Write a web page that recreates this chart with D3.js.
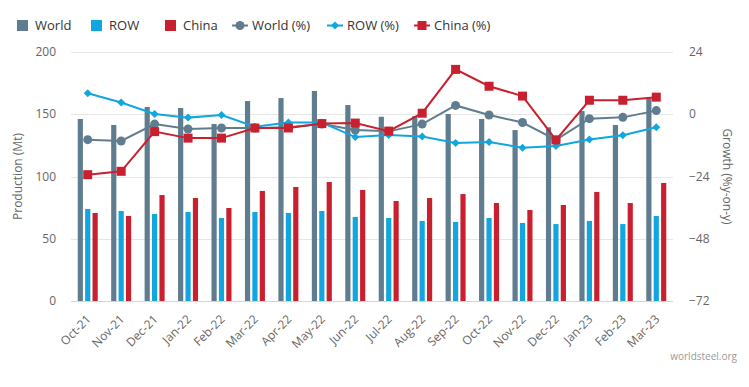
<!DOCTYPE html>
<html>
<head>
<meta charset="utf-8">
<script src="https://cdn.jsdelivr.net/npm/d3@7"></script>
<style>
  body { margin: 0; background: #fff; }
  svg { font-family: "Open Sans", "DejaVu Sans", sans-serif; }
  .grid line { stroke: #e6e6e6; }
  .axis text { fill: #666; font-size: 12px; }
</style>
</head>
<body>
<svg id="chart"></svg>
<script>
var months = ["Oct-21","Nov-21","Dec-21","Jan-22","Feb-22","Mar-22","Apr-22","May-22","Jun-22",
              "Jul-22","Aug-22","Sep-22","Oct-22","Nov-22","Dec-22","Jan-23","Feb-23","Mar-23"];

// production, Mt
var world = [146.2, 141.4, 155.8, 155.0, 142.2, 160.6, 163.0, 168.7, 157.4,
             148.0, 148.5, 150.2, 146.2, 137.3, 139.5, 152.6, 141.4, 162.8];
var row   = [73.9, 72.3, 69.9, 71.5, 66.7, 71.5, 70.7, 72.3, 67.5,
             66.7, 64.3, 63.5, 66.7, 62.7, 61.8, 64.3, 61.8, 68.3];
var china = [70.7, 68.3, 85.1, 82.7, 74.7, 88.4, 91.6, 95.6, 89.2,
             80.3, 82.7, 85.9, 78.7, 73.1, 77.1, 87.6, 78.7, 94.8];

// growth, % y-on-y
var worldPct = [-9.8, -10.3, -3.8, -5.7, -5.3, -5.3, -5.0, -3.8, -6.1,
                -6.6, -3.8, 3.4, -0.3, -3.2, -9.9, -1.7, -1.2, 1.4];
var rowPct   = [8.1, 4.5, 0.1, -1.3, -0.3, -4.8, -3.2, -3.2, -8.8,
                -8.0, -8.6, -11.1, -10.7, -12.9, -12.2, -9.7, -8.1, -5.0];
var chinaPct = [-23.3, -22.0, -6.7, -9.2, -9.2, -5.3, -5.3, -3.6, -3.4,
                -6.5, 0.4, 17.3, 10.8, 7.0, -9.9, 5.4, 5.4, 6.6];

var leftTicks = [0, 50, 100, 150, 200];
var rightTicks = [-72, -48, -24, 0, 24];

var colors = {world: "#5f7d8e", row: "#11a6df", china: "#c9202f"};

var width = 749, height = 387;
var margin = {top: 52, left: 71, right: 76, bottom: 86};

var svg = d3.select("#chart").attr("width", width).attr("height", height);

var x = d3.scaleBand()
    .domain(months)
    .range([margin.left, width - margin.right]);

var yLeft = d3.scaleLinear().domain([0, 200]).range([height - margin.bottom + 0, margin.top]);
var yRight = d3.scaleLinear().domain([-72, 24]).range([height - margin.bottom, margin.top]);

// grid
svg.append("g")
    .attr("class", "grid")
    .selectAll("line")
    .data(leftTicks.slice(1))
    .enter().append("line")
    .attr("x1", margin.left).attr("x2", width - margin.right)
    .attr("y1", function(d) { return Math.round(yLeft(d)) + 0.5; })
    .attr("y2", function(d) { return Math.round(yLeft(d)) + 0.5; });

// bars
var inner = d3.scaleBand()
    .domain(["world", "row", "china"])
    .range([-10, 10])
    .paddingInner(0.3);

var series = [
    {key: "world", values: world},
    {key: "row", values: row},
    {key: "china", values: china}
];

series.forEach(function(s) {
    svg.append("g").selectAll("rect")
        .data(s.values)
        .enter().append("rect")
        .attr("x", function(d, i) { return x(months[i]) + x.bandwidth() / 2 + inner(s.key); })
        .attr("width", inner.bandwidth())
        .attr("y", function(d) { return yLeft(d); })
        .attr("height", function(d) { return yLeft(0) - yLeft(d); })
        .attr("fill", colors[s.key]);
});

// bottom axis line
svg.append("line")
    .attr("x1", margin.left).attr("x2", width - margin.right)
    .attr("y1", yLeft(0) + 0.5).attr("y2", yLeft(0) + 0.5)
    .attr("stroke", "#ccd6eb");

// lines
var cx = function(i) { return x(months[i]) + x.bandwidth() / 2; };

var lines = [
    {key: "world", values: worldPct, marker: "circle"},
    {key: "row", values: rowPct, marker: "diamond"},
    {key: "china", values: chinaPct, marker: "square"}
];

var line = d3.line()
    .x(function(d, i) { return cx(i); })
    .y(function(d) { return yRight(d); });

function drawMarker(g, type, px, py, color) {
    if (type === "circle") {
        g.append("circle").attr("cx", px).attr("cy", py).attr("r", 4.5).attr("fill", color);
    } else if (type === "diamond") {
        g.append("path")
            .attr("d", "M" + px + "," + (py - 4) + "L" + (px + 4) + "," + py + "L" + px + "," + (py + 4) + "L" + (px - 4) + "," + py + "Z")
            .attr("fill", color);
    } else {
        g.append("rect").attr("x", px - 4.5).attr("y", py - 4.5).attr("width", 9).attr("height", 9).attr("fill", color);
    }
}

lines.forEach(function(s) {
    var g = svg.append("g");
    g.append("path")
        .datum(s.values)
        .attr("d", line)
        .attr("fill", "none")
        .attr("stroke", colors[s.key])
        .attr("stroke-width", 2);
    s.values.forEach(function(v, i) {
        drawMarker(g, s.marker, cx(i), yRight(v), colors[s.key]);
    });
});

// left axis
var leftAxis = svg.append("g").attr("class", "axis");
leftAxis.selectAll("text")
    .data(leftTicks)
    .enter().append("text")
    .attr("x", 56)
    .attr("y", function(d) { return yLeft(d) + 4; })
    .attr("text-anchor", "end")
    .text(function(d) { return d; });

svg.append("text")
    .attr("transform", "translate(22," + ((margin.top + height - margin.bottom) / 2) + ") rotate(-90)")
    .attr("text-anchor", "middle")
    .attr("fill", "#666")
    .attr("font-size", 12)
    .text("Production (Mt)");

// right axis
var rightAxis = svg.append("g").attr("class", "axis");
rightAxis.selectAll("text")
    .data(rightTicks)
    .enter().append("text")
    .attr("x", 689)
    .attr("y", function(d) { return yRight(d) + 4; })
    .attr("text-anchor", "start")
    .text(function(d) { return d < 0 ? "\u2212" + Math.abs(d) : d; });

svg.append("text")
    .attr("transform", "translate(723," + ((margin.top + height - margin.bottom) / 2) + ") rotate(90)")
    .attr("text-anchor", "middle")
    .attr("fill", "#666")
    .attr("font-size", 12)
    .text("Growth (%y-on-y)");

// x labels
svg.append("g").attr("class", "axis")
    .selectAll("text")
    .data(months)
    .enter().append("text")
    .attr("transform", function(d) {
        return "translate(" + (x(d) + x.bandwidth() / 2 + 4) + "," + (yLeft(0) + 19) + ") rotate(-45)";
    })
    .attr("text-anchor", "end")
    .text(function(d) { return d; });

// legend
var legendItems = [
    {label: "World", key: "world", type: "bar", x: 17},
    {label: "ROW", key: "row", type: "bar", x: 91},
    {label: "China", key: "china", type: "bar", x: 165},
    {label: "World (%)", key: "world", type: "circle", x: 232},
    {label: "ROW (%)", key: "row", type: "diamond", x: 327},
    {label: "China (%)", key: "china", type: "square", x: 414}
];

var legend = svg.append("g");
legendItems.forEach(function(it) {
    var g = legend.append("g");
    var ly = 25;
    if (it.type === "bar") {
        g.append("rect").attr("x", it.x).attr("y", ly - 5).attr("width", 11).attr("height", 11).attr("fill", colors[it.key]);
        g.append("text").attr("x", it.x + 18).attr("y", ly + 5)
            .attr("font-size", 13).attr("fill", "#333").text(it.label);
    } else {
        g.append("line").attr("x1", it.x).attr("x2", it.x + 16).attr("y1", ly + 0.5).attr("y2", ly + 0.5)
            .attr("stroke", colors[it.key]).attr("stroke-width", 2);
        drawMarker(g, it.type, it.x + 8, ly + 0.5, colors[it.key]);
        g.append("text").attr("x", it.x + 20).attr("y", ly + 5)
            .attr("font-size", 13).attr("fill", "#333").text(it.label);
    }
});

// credits
svg.append("text")
    .attr("x", 737).attr("y", 360)
    .attr("text-anchor", "end")
    .attr("font-size", 10)
    .attr("fill", "#999")
    .text("worldsteel.org");
</script>
</body>
</html>
